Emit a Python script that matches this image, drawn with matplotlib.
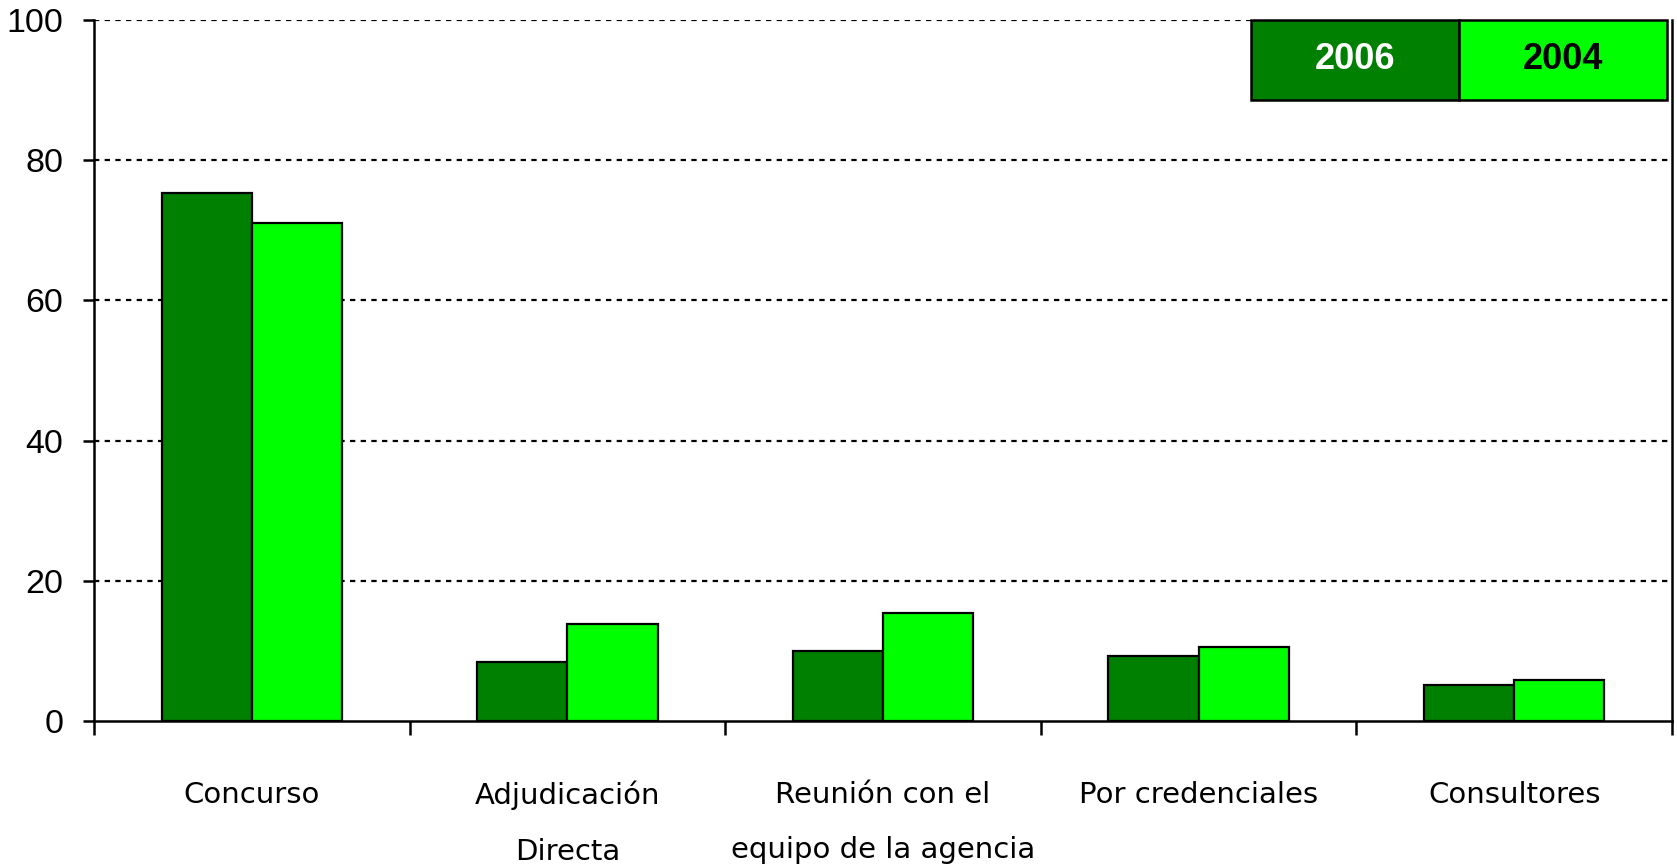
import matplotlib.pyplot as plt
import numpy as np

# datos
categorias = ['Concurso', 'Adjudicación\nDirecta', 'Reunión con el\nequipo de la agencia',
              'Por credenciales', 'Consultores']
series = ['2006', '2004']
valores_2006 = [75.3, 8.4, 10.0, 9.3, 5.1]
valores_2004 = [71.1, 13.8, 15.4, 10.6, 5.8]
colores = ['#008000', '#00FF00']
colores_texto = ['white', 'black']

fig = plt.figure(figsize=(16.77, 8.68), dpi=100)
ax = fig.add_axes([0.0561, 0.1694, 0.9409, 0.8076])

x = np.arange(len(categorias))
w = 0.286
ax.bar(x - w / 2, valores_2006, w, color=colores[0], edgecolor='black', linewidth=1.6, zorder=3)
ax.bar(x + w / 2, valores_2004, w, color=colores[1], edgecolor='black', linewidth=1.6, zorder=3)

ax.set_xlim(-0.5, len(categorias) - 0.5)
ax.set_ylim(0, 100)

# rejilla punteada
ax.set_yticks([0, 20, 40, 60, 80, 100])
for yv in [20, 40, 60, 80, 100]:
    ax.axhline(yv, color='black', lw=1.6, ls=(0, (2.4, 2.4)), zorder=1)

ax.spines['top'].set_visible(False)
for s in ['left', 'bottom', 'right']:
    ax.spines[s].set_linewidth(1.8)

ax.tick_params(axis='y', length=8, width=1.8, pad=14, labelsize=24.5)
for lbl in ax.get_yticklabels():
    lbl.set_fontfamily('Liberation Sans')

# marcas en los límites de categoría, etiquetas en el centro
ax.set_xticks(np.arange(-0.5, len(categorias)))
ax.set_xticklabels([])
ax.tick_params(axis='x', which='major', length=10, width=1.8, direction='out')
ax.set_xticks(x, minor=True)
ax.set_xticklabels(categorias, minor=True, fontsize=21, fontfamily='DejaVu Sans', linespacing=2.25)
ax.tick_params(axis='x', which='minor', length=0, pad=43)

# leyenda en forma de tabla
tabla = ax.table(cellText=[series], cellColours=[colores], cellLoc='center',
                 bbox=[0.733, 0.886, 0.264, 0.114])
tabla.auto_set_font_size(False)
for j, col in enumerate(colores_texto):
    celda = tabla[0, j]
    celda.set_linewidth(1.8)
    celda.get_text().set_color(col)
    celda.get_text().set_fontsize(26)
    celda.get_text().set_fontweight('bold')
    celda.get_text().set_fontfamily('Liberation Sans')
tabla.set_zorder(5)

fig.savefig('out.png', dpi=100)
